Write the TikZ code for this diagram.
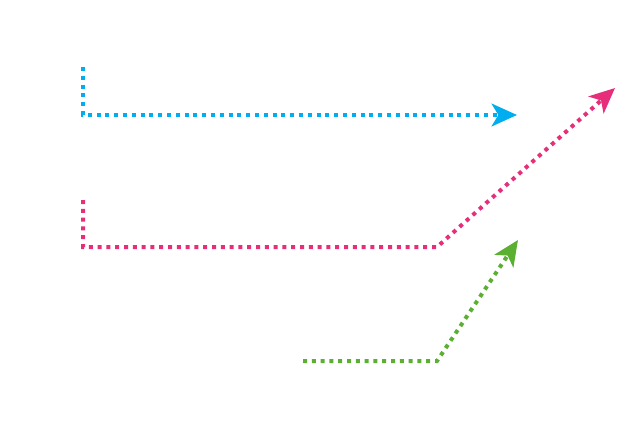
\documentclass[tikz,border=0pt]{standalone}
\usetikzlibrary{arrows.meta}
\definecolor{cyanline}{RGB}{0,174,239}
\definecolor{pinkline}{RGB}{230,46,123}
\definecolor{greenline}{RGB}{91,176,49}
\begin{document}
\begin{tikzpicture}[x=0.75pt, y=-0.75pt,
	dots/.style={line width=3pt, dash pattern=on 3pt off 3.6pt,
		-{Stealth[length=19pt, width=17pt, inset=5pt]}}]
	\useasboundingbox (0,0) rectangle (625,429);
	\coordinate (b1) at (83,67); \coordinate (b2) at (83,115);
	\coordinate (b3) at (517,115);
	\coordinate (p1) at (83,200); \coordinate (p2) at (83,247);
	\coordinate (p3) at (437,247); \coordinate (p4) at (615,88);
	\coordinate (g1) at (303,361); \coordinate (g2) at (437,361);
	\coordinate (g3) at (518,240);
	\draw[dots, cyanline] (b1) -- (b2) -- (b3);
	\draw[dots, pinkline] (p1) -- (p2) -- (p3) -- (p4);
	\draw[dots, greenline] (g1) -- (g2) -- (g3);
\end{tikzpicture}
\end{document}
